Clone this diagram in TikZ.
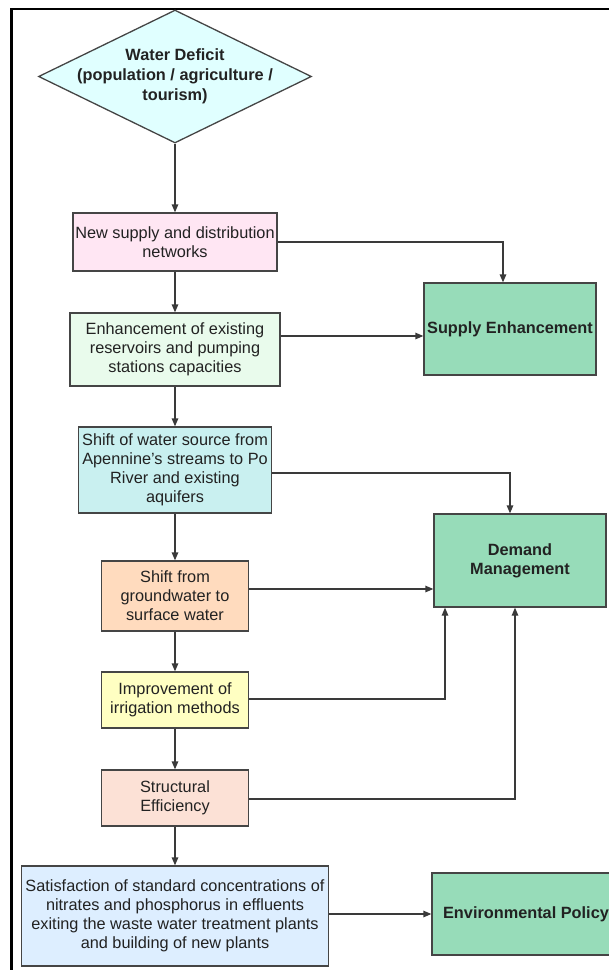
\documentclass[tikz,border=0pt]{standalone}
\usepackage{fontspec}
\setmainfont{Liberation Sans}
\usetikzlibrary{arrows.meta,shapes.geometric}

\definecolor{edgegray}{HTML}{454545}
\definecolor{linegray}{HTML}{3A3A3A}
\definecolor{txt}{HTML}{222222}
\definecolor{deficitfill}{HTML}{E0FFFF}
\definecolor{pinkfill}{HTML}{FFE6F3}
\definecolor{mintfill}{HTML}{E9FBEC}
\definecolor{aquafill}{HTML}{C9F0F0}
\definecolor{peachfill}{HTML}{FFDBBE}
\definecolor{lemonfill}{HTML}{FFFFC2}
\definecolor{salmonfill}{HTML}{FCE1D6}
\definecolor{skyfill}{HTML}{DDEEFF}
\definecolor{goalgreen}{HTML}{97DCB9}

\begin{document}
\begin{tikzpicture}[x=1pt,y=-1pt,
  box/.style={draw=edgegray, line width=1.3pt, align=center, inner sep=0pt,
    text=txt, font=\fontsize{16.3}{19}\selectfont},
  goal/.style={box, fill=goalgreen, font=\bfseries\fontsize{16.3}{19}\selectfont},
  link/.style={draw=linegray, line width=1.3pt, -{Triangle[length=8pt,width=6.5pt]}}]

\useasboundingbox (0,0) rectangle (609,970);

% page frame
\draw[line width=2.5pt] (11.5,972) -- (11.5,9) -- (611,9);

% starting condition
\node[diamond, draw=edgegray, line width=1.3pt, fill=deficitfill,
  minimum width=273pt, minimum height=133pt, inner sep=0pt] (wd) at (175,76.5) {};
\node[align=center, text=txt, inner sep=0pt,
  font=\bfseries\fontsize{16.3}{20}\selectfont] (wdtext) at (wd.center)
  {Water Deficit\\(population / agriculture /\\tourism)};

% chain of measures
\node[box, fill=pinkfill,   minimum width=204pt, minimum height=58pt] (b1) at (175,242)
  {New supply and distribution\\networks};
\node[box, fill=mintfill,   minimum width=210pt, minimum height=73pt] (b2) at (175,349.5)
  {Enhancement of existing\\reservoirs and pumping\\stations capacities};
\node[box, fill=aquafill,   minimum width=193pt, minimum height=86pt] (b3) at (175,470)
  {Shift of water source from\\Apennine's streams to Po\\River and existing\\aquifers};
\node[box, fill=peachfill,  minimum width=147pt, minimum height=70pt] (b4) at (175,596)
  {Shift from\\groundwater to\\surface water};
\node[box, fill=lemonfill,  minimum width=147pt, minimum height=56pt] (b5) at (175,700)
  {Improvement of\\irrigation methods};
\node[box, fill=salmonfill, minimum width=147pt, minimum height=56pt] (b6) at (175,798)
  {Structural\\Efficiency};
\node[box, fill=skyfill,    minimum width=307pt, minimum height=100pt] (b7) at (175,916)
  {Satisfaction of standard concentrations of\\nitrates and phosphorus in effluents\\exiting the waste water treatment plants\\and building of new plants};

% policy categories
\node[goal, minimum width=172pt, minimum height=92pt] (se) at (510,329) {Supply Enhancement};
\node[goal, minimum width=172pt, minimum height=93pt] (dm) at (520,560.5) {Demand\\Management};
\node[goal, minimum width=188pt, minimum height=82pt] (ep) at (526,914) {Environmental Policy};

% vertical flow
\draw[link] (wd.south) -- (b1.north);
\draw[link] (b1.south) -- (b2.north);
\draw[link] (b2.south) -- (b3.north);
\draw[link] (b3.south) -- (b4.north);
\draw[link] (b4.south) -- (b5.north);
\draw[link] (b5.south) -- (b6.north);
\draw[link] (b6.south) -- (b7.north);

% links to categories
\draw[link] (b1.east) -| ([xshift=-7pt]se.north);
\draw[link] ([yshift=13.5pt]b2.east) -- ([yshift=13.5pt]b2.east -| se.west);
\draw[link] ([yshift=-3pt]b3.east) -| ([xshift=-10pt]dm.north);
\draw[link] ([yshift=7pt]b4.east) -- ([yshift=7pt]b4.east -| dm.west);
\draw[link] ([yshift=1pt]b5.east) -| ([xshift=-75pt]dm.south);
\draw[link] ([yshift=-1pt]b6.east) -| ([xshift=-5pt]dm.south);
\draw[link] ([yshift=2pt]b7.east) -- ([yshift=2pt]b7.east -| ep.west);
\end{tikzpicture}
\end{document}
